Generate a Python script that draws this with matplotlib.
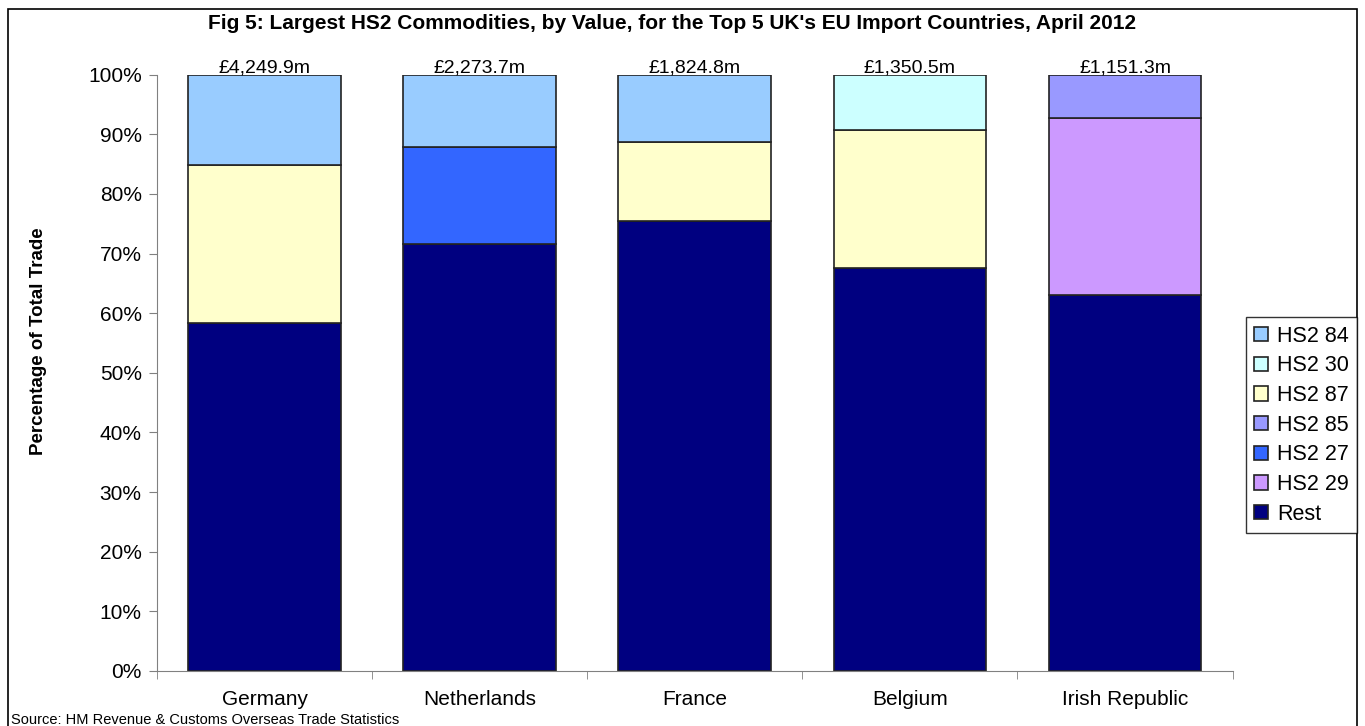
import numpy as np
import matplotlib.pyplot as plt
from matplotlib.patches import Rectangle

plt.rcParams['font.family'] = ['Liberation Sans', 'DejaVu Sans']

# Datos: porcentaje del comercio total por país y capítulo HS2
countries = ['Germany', 'Netherlands', 'France', 'Belgium', 'Irish Republic']
totals = ['£4,249.9m', '£2,273.7m', '£1,824.8m', '£1,350.5m', '£1,151.3m']

rest   = [58.4, 71.6, 75.5, 67.6, 63.1]
hs2_29 = [0, 0, 0, 0, 29.7]
hs2_27 = [0, 16.3, 0, 0, 0]
hs2_85 = [0, 0, 0, 0, 7.2]
hs2_87 = [26.5, 0, 13.3, 23.2, 0]
hs2_30 = [0, 0, 0, 9.2, 0]
hs2_84 = [15.1, 12.1, 11.2, 0, 0]

# Orden de apilado (de abajo hacia arriba) y colores
series = [('Rest', rest, '#000080'),
          ('HS2 29', hs2_29, '#CC99FF'),
          ('HS2 27', hs2_27, '#3366FF'),
          ('HS2 85', hs2_85, '#9999FF'),
          ('HS2 87', hs2_87, '#FFFFCC'),
          ('HS2 30', hs2_30, '#CCFFFF'),
          ('HS2 84', hs2_84, '#99CCFF')]

fig = plt.figure(figsize=(13.65, 7.26), dpi=100)
ax = fig.add_axes([0.115, 0.076, 0.788, 0.821])

x = np.arange(len(countries))
bottom = np.zeros(len(countries))
handles = []
for name, vals, col in series:
    vals = np.array(vals, dtype=float)
    mask = vals > 0
    b = ax.bar(x[mask], vals[mask], bottom=bottom[mask], width=0.71, color=col,
               edgecolor='#222222', linewidth=1.2, label=name)
    handles.append(b)
    bottom = bottom + vals

for xi, t in zip(x, totals):
    ax.text(xi, 99.7, t, ha='center', va='bottom', fontsize=14)

ax.set_xlim(-0.5, len(countries) - 0.5)
ax.set_ylim(0, 100)
ax.set_yticks(np.arange(0, 101, 10))
ax.set_yticklabels([f'{v}%' for v in range(0, 101, 10)], fontsize=15)
ax.set_xticks(x)
ax.set_xticklabels(countries, fontsize=15)
ax.set_xticks(np.arange(-0.5, len(countries)), minor=True)
ax.tick_params(axis='x', which='major', length=0, pad=14)
ax.tick_params(axis='x', which='minor', length=6, color='#808080')
ax.tick_params(axis='y', length=6, color='#808080', pad=5)
for s in ['top', 'right']:
    ax.spines[s].set_visible(False)
for s in ['left', 'bottom']:
    ax.spines[s].set_color('#808080')

fig.text(0.028, 0.53, 'Percentage of Total Trade', rotation=90, ha='center', va='center',
         fontsize=13.5, fontweight='bold')

fig.text(0.492, 0.968, "Fig 5: Largest HS2 Commodities, by Value, for the Top 5 UK's EU Import Countries, April 2012",
         ha='center', va='center', fontsize=15, fontweight='bold')

# Leyenda en el orden de la serie superior a la inferior
leg = fig.legend(handles[::-1], [s[0] for s in series[::-1]], loc='upper right',
                 bbox_to_anchor=(0.9945, 0.563), fontsize=15.5, frameon=True,
                 fancybox=False, edgecolor='black', handlelength=0.65, handleheight=0.65,
                 handletextpad=0.4, labelspacing=0.4, borderpad=0.4, borderaxespad=0)
leg.get_frame().set_linewidth(1.0)

fig.text(0.008, 0.003, 'Source: HM Revenue & Customs Overseas Trade Statistics', fontsize=10.5,
         ha='left', va='baseline')

# Marco exterior del gráfico
fig.patches.append(Rectangle((0.006, -0.05), 0.988, 1.038, transform=fig.transFigure,
                             fill=False, edgecolor='black', linewidth=1.2))

fig.savefig('out.png', dpi=100)
